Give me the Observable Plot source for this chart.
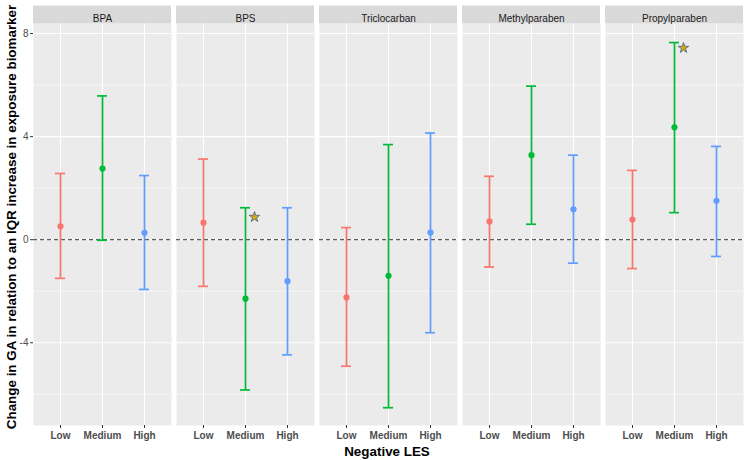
<!DOCTYPE html>
<html><head><meta charset="utf-8">
<script src="https://cdn.jsdelivr.net/npm/d3@7"></script>
<script src="https://cdn.jsdelivr.net/npm/@observablehq/plot@0.6"></script>
<style>body{margin:0;background:#fff;} #chart{width:750px;height:460px;}</style>
</head><body><div id="chart"></div>
<script>
const chemicals = ["BPA", "BPS", "Triclocarban", "Methylparaben", "Propylparaben"];
const lesLevels = ["Low", "Medium", "High"];
const estimate = [
  [0.52, 2.76, 0.27],
  [0.66, -2.29, -1.61],
  [-2.24, -1.40, 0.28],
  [0.71, 3.28, 1.18],
  [0.78, 4.36, 1.51]
];
const lower = [
  [-1.50, -0.02, -1.93],
  [-1.81, -5.83, -4.47],
  [-4.91, -6.52, -3.61],
  [-1.06, 0.60, -0.91],
  [-1.12, 1.05, -0.65]
];
const upper = [
  [2.57, 5.58, 2.49],
  [3.13, 1.24, 1.24],
  [0.47, 3.69, 4.14],
  [2.46, 5.96, 3.28],
  [2.69, 7.65, 3.62]
];
const starChem = ["BPS", "Propylparaben"];
const starLevel = ["Medium", "Medium"];
const starValue = [0.88, 7.44];
const majorTicks = [-4, 0, 4, 8];
const minorTicks = [-6, -2, 2, 6];
const yDomain = [-7.21, 8.39];
const colors = ["#F8766D", "#00BA38", "#619CFF"];

const rows = [];
chemicals.forEach((c, i) => lesLevels.forEach((l, j) =>
  rows.push({chem: c, les: l, est: estimate[i][j], lo: lower[i][j], hi: upper[i][j]})));
const stars = starChem.map((c, i) => ({chem: c, les: starLevel[i], y: starValue[i]}));

const plot = Plot.plot({
  width: 750, height: 460,
  marginTop: 23, marginBottom: 35, marginLeft: 32, marginRight: 7,
  style: {fontFamily: "'Liberation Sans', Arial, sans-serif", background: "#fff", fontSize: "10px"},
  fx: {domain: chemicals, paddingInner: 0.038, paddingOuter: 0, axis: null, label: null},
  x: {domain: lesLevels, type: "band", paddingInner: 0.76, paddingOuter: 0.49, label: null},
  y: {domain: yDomain, label: null},
  color: {domain: lesLevels, range: colors},
  marks: [
    Plot.frame({fill: "#EBEBEB", stroke: null}),
    Plot.ruleY(minorTicks, {stroke: "#fff", strokeWidth: 0.55}),
    Plot.ruleY(majorTicks, {stroke: "#fff", strokeWidth: 1.1}),
    Plot.ruleX(lesLevels, {x: d => d, stroke: "#fff", strokeWidth: 1.1}),
    Plot.ruleY([yDomain[1]], {stroke: "#D9D9D9", strokeWidth: 18, dy: -9}),
    Plot.text(chemicals, {fx: d => d, text: d => d, frameAnchor: "top", dy: -9, fontSize: 10, fill: "#1A1A1A"}),
    Plot.ruleY([0], {stroke: "#333", strokeDasharray: "4,3", strokeWidth: 1}),
    Plot.ruleX(rows, {fx: "chem", x: "les", y1: "lo", y2: "hi", stroke: "les", strokeWidth: 1.7}),
    Plot.tickY(rows, {fx: "chem", x: "les", y: "hi", stroke: "les", strokeWidth: 1.7}),
    Plot.tickY(rows, {fx: "chem", x: "les", y: "lo", stroke: "les", strokeWidth: 1.7}),
    Plot.dot(rows, {fx: "chem", x: "les", y: "est", fill: "les", r: 3.1}),
    Plot.dot(stars, {fx: "chem", x: "les", y: "y", symbol: "star", r: 3.3, fill: "#D9A90A", stroke: "#4F6B8C", strokeWidth: 0.9, dx: 9}),
    Plot.axisY({ticks: majorTicks, tickFormat: d => String(d), tickSize: 3, tickPadding: 2, stroke: "#333", fill: "#4D4D4D", fontSize: 10, label: null}),
    Plot.axisX({tickSize: 3, tickPadding: 3.5, stroke: "#333", fill: "#4D4D4D", fontSize: 10, fontWeight: "bold", label: null})
  ]
});
document.getElementById("chart").appendChild(plot);

const svg = d3.select(plot);
svg.append("text")
  .attr("transform", "translate(12,217) rotate(-90)")
  .attr("text-anchor", "middle").attr("dominant-baseline", "middle")
  .attr("font-size", 13.4).attr("font-weight", "bold").attr("fill", "#000")
  .text("Change in GA in relation to an IQR increase in exposure biomarker");
svg.append("text")
  .attr("x", 387).attr("y", 452)
  .attr("text-anchor", "middle").attr("dominant-baseline", "middle")
  .attr("font-size", 13.4).attr("font-weight", "bold").attr("fill", "#000")
  .text("Negative LES");
</script>
</body></html>
